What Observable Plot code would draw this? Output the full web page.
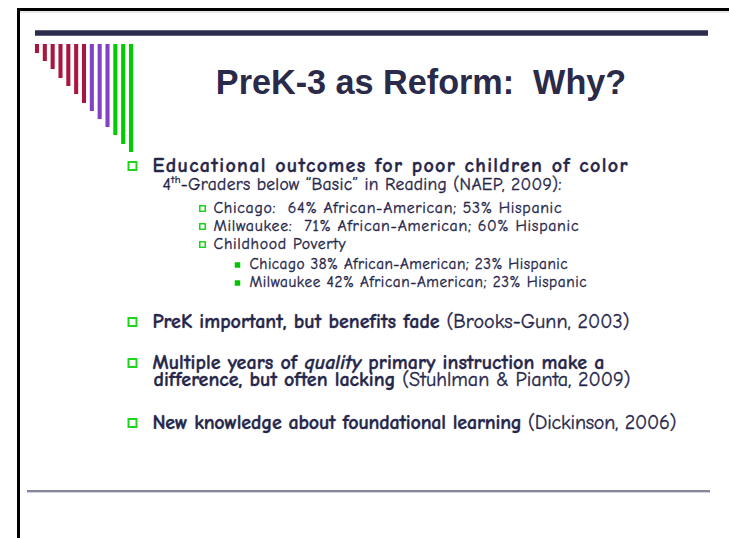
<!DOCTYPE html>
<html><head><meta charset="utf-8">
<script src="https://cdn.jsdelivr.net/npm/d3@7"></script>
<script src="https://cdn.jsdelivr.net/npm/@observablehq/plot@0.6"></script>
<style>
body{margin:0;background:#fff;}
#slide{position:relative;width:729px;height:538px;overflow:hidden;background:#fff;}
#slide svg{position:absolute;left:0;top:0;overflow:visible;}
</style></head><body><div id="slide"></div>
<script>
// ---------- data ----------
const titleText = "PreK-3 as Reform:  Why?";

const barIds = ["b1","b2","b3","b4","b5","b6","b7","b8","b9","b10","b11","b12","b13"];
const barLengths = [9,17,25,34,42,50,59,67,75,83,91,100,108];
const barGroups = ["g1","g1","g1","g1","g1","g1","g1","g2","g2","g2","g3","g3","g3"];

// each line: list of [text, style] runs
const lineRuns = [
  [["Educational outcomes for poor children of color","b"]],
  [["4","r"],["th","sup"],["-Graders below \u201cBasic\u201d in Reading (NAEP, 2009):","r"]],
  [["Chicago:  64% African-American; 53% Hispanic","r"]],
  [["Milwaukee:  71% African-American; 60% Hispanic","r"]],
  [["Childhood Poverty","r"]],
  [["Chicago 38% African-American; 23% Hispanic","r"]],
  [["Milwaukee 42% African-American; 23% Hispanic","r"]],
  [["PreK important, but benefits fade","b"],[" (Brooks-Gunn, 2003)","r"]],
  [["Multiple years of ","b"],["quality","bi"],[" primary instruction make a","b"]],
  [["difference, but often lacking","b"],[" (Stuhlman & Pianta, 2009)","r"]],
  [["New knowledge about foundational learning","b"],[" (Dickinson, 2006)","r"]]
];
const lineKinds = ["main","note","sub","sub","sub","subsub","subsub","main","main","cont","main"];

// ---------- layout (positions / sizes / styles) ----------
const baselines = [171,189,212,230,248,268,286,327,368,385,428];
const lineWidths = [475,399,348,365,132,318,337,477,452,477,524];
const kindTextX = {main:152, note:162, sub:213, subsub:249, cont:153};
const kindFont = {main:20, note:17.5, sub:15.8, subsub:15.2, cont:20};
const kindBulletX = {main:132, sub:202, subsub:237};
const kindBulletLift = {main:5.5, sub:4, subsub:3.5};
const ink = "#26264a";
const green = "#1fd41f";
const bodyFont = "'Comic Sans MS','Comic Neue','DejaVu Sans',sans-serif";

const lines = lineRuns.map((runs, i) => ({
  i, kind: lineKinds[i], runs,
  text: runs.map(r => r[0]).join(""),
  x: kindTextX[lineKinds[i]], y: baselines[i], size: kindFont[lineKinds[i]], w: lineWidths[i]
}));
const bulletsOf = k => lines.filter(d => d.kind === k).map(d => ({x: kindBulletX[k], y: d.y - kindBulletLift[k]}));

const slide = document.getElementById("slide");

const main = Plot.plot({
  width: 729, height: 538, margin: 0,
  x: {type: "identity", axis: null},
  y: {type: "identity", axis: null},
  marks: [
    // slide frame
    Plot.ruleX([18], {y1: 8, y2: 538, stroke: "#000", strokeWidth: 3}),
    Plot.ruleY([9], {x1: 17, x2: 729, stroke: "#000", strokeWidth: 3}),
    Plot.ruleY([11.5], {x1: 20, x2: 729, stroke: "#cfcfcf", strokeWidth: 1}),
    // header bar
    Plot.ruleY([32.5], {x1: 35, x2: 708, stroke: "#2c2c4c", strokeWidth: 5.5}),
    // footer rule
    Plot.ruleY([490.5], {x1: 27, x2: 710, stroke: "#5c5c7a", strokeWidth: 1.6}),
    Plot.ruleY([492], {x1: 27, x2: 710, stroke: "#d4d4dc", strokeWidth: 1}),
    // title
    Plot.text([titleText], {x: 420.5, y: 93, text: d => d, textAnchor: "middle", lineAnchor: "bottom",
      fontSize: 34.2, fontWeight: "bold", fontFamily: "'Liberation Sans',Arial,sans-serif", fill: "#2a2a4a"}),
    // bullets
    Plot.dot(bulletsOf("main"), {x: "x", y: "y", symbol: "square", r: 4.5, stroke: green, strokeWidth: 2, fill: "#fff"}),
    Plot.dot(bulletsOf("sub"), {x: "x", y: "y", symbol: "square", r: 3.1, stroke: green, strokeWidth: 1.6, fill: "#fff"}),
    Plot.dot(bulletsOf("subsub"), {x: "x", y: "y", symbol: "square", r: 3.1, fill: "#00c400", stroke: "none"}),
    // body text
    Plot.text(lines, {x: "x", y: "y", text: "text", textAnchor: "start", lineAnchor: "bottom",
      fontSize: d => d.size, fontFamily: bodyFont, fill: ink, stroke: ink, strokeWidth: 0.35})
  ]
});
slide.appendChild(main);

// rich text runs (bold / italic / superscript) on the body text mark (last text group)
const textGroups = main.querySelectorAll('g[aria-label="text"]');
const bodyGroup = textGroups[textGroups.length - 1];
d3.select(bodyGroup).selectAll("text").each(function(_, k) {
  const line = lines[k];
  const t = d3.select(this);
  t.text(null);
  let shifted = false;
  for (const [s, st] of line.runs) {
    const ts = t.append("tspan").text(s);
    if (st === "b" || st === "bi") ts.attr("font-weight", "bold");
    if (st === "bi") ts.attr("font-style", "italic");
    if (st === "sup") { ts.attr("font-size", line.size * 0.62).attr("dy", -line.size * 0.38); shifted = true; }
    else if (shifted) { ts.attr("dy", line.size * 0.38); shifted = false; }
  }
  t.attr("textLength", line.w).attr("lengthAdjust", "spacing");
});

// decorative descending bars
const bars = Plot.plot({
  width: 102, height: 110, margin: 0,
  x: {type: "band", domain: barIds, range: [0, 102], paddingInner: 0.48, paddingOuter: 0.25, round: false, axis: null},
  y: {domain: [0, 110], range: [0, 110], axis: null},
  color: {type: "ordinal", domain: ["g1", "g2", "g3"], range: ["#a8173f", "#8141c9", "#00cc00"]},
  marks: [
    Plot.barY(barIds.map((id, i) => ({id, len: barLengths[i], grp: barGroups[i]})), {x: "id", y: "len", fill: "grp"})
  ]
});
bars.style.left = "33px";
bars.style.top = "44px";
slide.appendChild(bars);
</script></body></html>
